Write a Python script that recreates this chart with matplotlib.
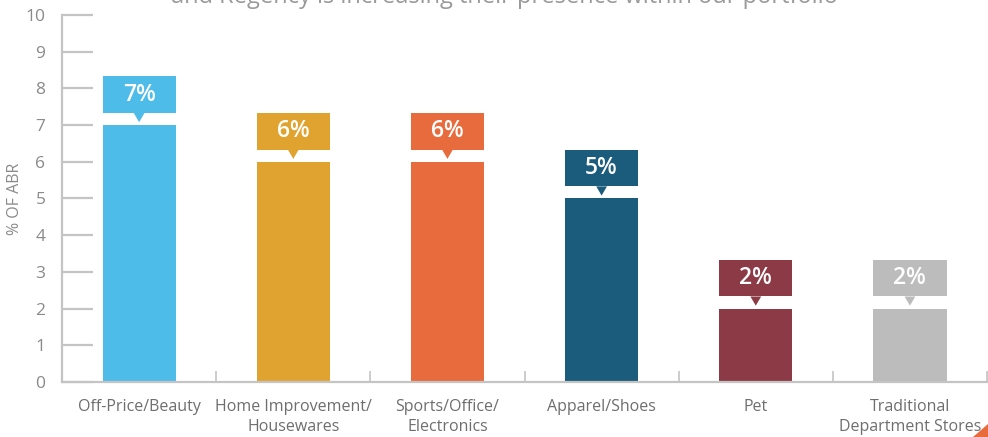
import matplotlib
matplotlib.use("Agg")
import matplotlib.pyplot as plt
import matplotlib.patches as patches
import numpy as np

plt.rcParams['font.family'] = ['Open Sans', 'DejaVu Sans']

# data
categories = ['Off-Price/Beauty', 'Home Improvement/\nHousewares', 'Sports/Office/\nElectronics',
              'Apparel/Shoes', 'Pet', 'Traditional\nDepartment Stores']
values = [7, 6, 6, 5, 2, 2]
value_labels = ['7%', '6%', '6%', '5%', '2%', '2%']
colors = ['#4DBCE8', '#E1A32F', '#E86B3D', '#1B5B7C', '#8B3A46', '#BDBCBC']

fig = plt.figure(figsize=(9.88, 4.37), dpi=100)
ax = fig.add_axes([0.0628, 0.1259, 0.9362, 0.8398])

x = np.arange(len(categories))
bw = 0.475
ax.bar(x, values, width=bw, color=colors, zorder=2)

# callout boxes above each bar
gap, box_h, tip_h, tip_w = 0.33, 1.0, 0.25, 0.035
for xi, v, lab, c in zip(x, values, value_labels, colors):
    rect = patches.Rectangle((xi - bw / 2, v + gap), bw, box_h, facecolor=c, edgecolor='none', zorder=3)
    ax.add_patch(rect)
    tri = patches.Polygon([(xi - tip_w, v + gap), (xi + tip_w, v + gap), (xi, v + gap - tip_h)],
                          closed=True, facecolor=c, edgecolor='none', zorder=3)
    ax.add_patch(tri)
    ax.text(xi, v + gap + box_h / 2, lab, ha='center', va='center', color='white',
            fontsize=16.5, fontweight='semibold', zorder=4)

ax.set_xlim(-0.5, len(categories) - 0.5)
ax.set_ylim(0, 10)
ax.set_yticks(range(0, 11))

grey = '#C4C4C4'
for s in ['top', 'right']:
    ax.spines[s].set_visible(False)
for s in ['left', 'bottom']:
    ax.spines[s].set_color(grey)
    ax.spines[s].set_linewidth(1.6)

ax.tick_params(axis='y', direction='in', length=22, width=1.6, color=grey,
               labelsize=12.5, labelcolor='#8A8A8A', pad=12)
ax.set_xticks(x)
ax.set_xticklabels(categories, linespacing=1.4)
ax.tick_params(axis='x', length=0, labelsize=11.5, labelcolor='#6E6E6E', pad=12)
ax.set_xticks(np.arange(0.5, len(categories), 1.0), minor=True)
ax.tick_params(axis='x', which='minor', direction='in', length=8, width=1.2, color=grey)

ax.set_ylabel('% OF ABR', fontsize=11.5, color='#8A8A8A', labelpad=2)

# cropped subtitle at the top
fig.text(0.511, 1 - 3 / 437, 'and Regency is increasing their presence within our portfolio',
         ha='center', va='baseline', fontsize=17, color='#9A9A9A')

# orange corner
fig.patches.append(patches.Polygon([(0.985, 0), (1, 0), (1, 0.03)], closed=True,
                                   transform=fig.transFigure, facecolor='#E86B3D',
                                   edgecolor='none', figure=fig))

fig.savefig('out.png', dpi=100, facecolor='white')
